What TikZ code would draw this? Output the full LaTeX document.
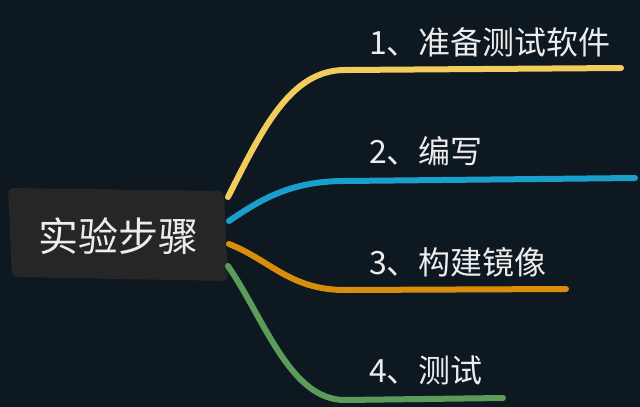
\documentclass[tikz,border=0pt]{standalone}
\usepackage{fontspec}
\setmainfont{Noto Sans CJK SC}
\definecolor{bg}{HTML}{0D1821}
\definecolor{boxfill}{HTML}{262626}
\definecolor{txt}{HTML}{EDEDED}
\definecolor{cy}{HTML}{F2CD5C}
\definecolor{cb}{HTML}{1A9FCC}
\definecolor{co}{HTML}{D98E0B}
\definecolor{cg}{HTML}{5B9C5B}
\tikzset{
  lbl/.style={text=txt, anchor=west, inner sep=0pt, font=\fontsize{32}{34}\selectfont},
  branch/.style={line width=6pt, line cap=round, line join=round},
}
\begin{document}
\begin{tikzpicture}[x=1pt,y=-1pt]
\fill[bg] (0,0) rectangle (640,407);
\useasboundingbox (0,0) rectangle (640,407);
% central box
\fill[boxfill, rounded corners=5pt] (8,188) -- (224,191) -- (228,281) -- (12,277) -- cycle;
\node[text=txt, inner sep=0pt, font=\fontsize{40}{42}\selectfont] (root) at (118,236) {实验步骤};
% coordinates
\coordinate (s1) at (228,197);
\coordinate (s2) at (229,221);
\coordinate (s3) at (229,244);
\coordinate (s4) at (228,266);
\coordinate (k1) at (345,70);
\coordinate (e1) at (621,68);
\coordinate (k2) at (345,181);
\coordinate (e2) at (635,178);
\coordinate (k3) at (345,290);
\coordinate (e3) at (566,289);
\coordinate (k4) at (345,400);
\coordinate (e4) at (503,398);
% branches
\draw[branch, cy] (s1) .. controls (262,130) and (290,70) .. (k1) -- (e1);
\draw[branch, cb] (s2) .. controls (260,200) and (290,181) .. (k2) -- (e2);
\draw[branch, co] (s3) .. controls (270,260) and (290,290) .. (k3) -- (e3);
\draw[branch, cg] (s4) .. controls (265,320) and (290,400) .. (k4) -- (e4);
% labels
\node[lbl] (l1) at (369,42) {1、准备测试软件};
\node[lbl] (l2) at (369,151) {2、编写};
\node[lbl] (l3) at (369,262) {3、构建镜像};
\node[lbl] (l4) at (369,370) {4、测试};
\end{tikzpicture}
\end{document}
